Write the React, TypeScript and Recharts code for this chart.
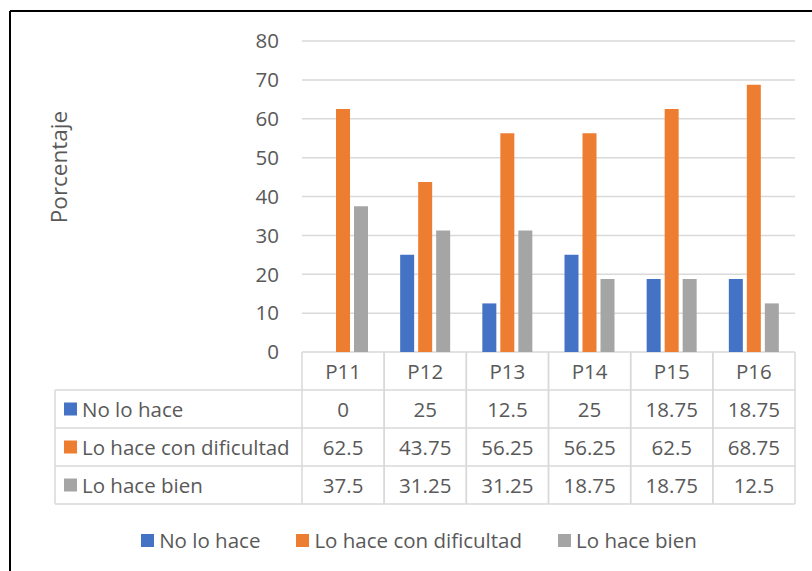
import { Bar, BarChart, CartesianGrid, Legend, XAxis, YAxis } from "recharts"

const categories = ["P11", "P12", "P13", "P14", "P15", "P16"]
const noLoHace = [0, 25, 12.5, 25, 18.75, 18.75]
const conDificultad = [62.5, 43.75, 56.25, 56.25, 62.5, 68.75]
const haceBien = [37.5, 31.25, 31.25, 18.75, 18.75, 12.5]
const yTicks = [0, 10, 20, 30, 40, 50, 60, 70, 80]

const series = [
  { key: "noLoHace", name: "No lo hace", color: "#4472C4", values: noLoHace },
  { key: "conDificultad", name: "Lo hace con dificultad", color: "#ED7D31", values: conDificultad },
  { key: "haceBien", name: "Lo hace bien", color: "#A5A5A5", values: haceBien },
]

const data = categories.map((name, i) => {
  const row: Record<string, string | number> = { name }
  series.forEach((s) => (row[s.key] = s.values[i]))
  return row
})

const W = 812
const H = 571
const PLOT_LEFT = 302
const PLOT_RIGHT = 795
const PLOT_TOP = 41
const PLOT_BOTTOM = 352
const ROW_H = 38
const TABLE_LEFT = 55
const GRID = "#D9D9D9"
const TEXT = "#595959"
const FONT = "'Open Sans', sans-serif"
const FS = 20.5

const colW = (PLOT_RIGHT - PLOT_LEFT) / categories.length

// one column of the data table, hung under each category tick
function TableColumn(props: any) {
  const { x, payload } = props
  const idx = categories.indexOf(payload.value)
  const top = PLOT_BOTTOM
  const x0 = x - colW / 2
  const x1 = x + colW / 2
  const bottom = top + ROW_H * (series.length + 1)
  return (
    <g>
      <line x1={x0} y1={top} x2={x0} y2={bottom} stroke={GRID} strokeWidth={1.5} />
      <line x1={x1} y1={top} x2={x1} y2={bottom} stroke={GRID} strokeWidth={1.5} />
      {series.map((s, r) => (
        <line key={s.key} x1={x0} y1={top + ROW_H * (r + 1)} x2={x1} y2={top + ROW_H * (r + 1)} stroke={GRID} strokeWidth={1.5} />
      ))}
      <line x1={x0} y1={bottom} x2={x1} y2={bottom} stroke={GRID} strokeWidth={1.5} />
      <text x={x} y={top + ROW_H / 2} textAnchor="middle" dominantBaseline="central" fill={TEXT} fontSize={FS} fontFamily={FONT}>
        {payload.value}
      </text>
      {series.map((s, r) => (
        <text
          key={s.key}
          x={x}
          y={top + ROW_H * (r + 1.5)}
          textAnchor="middle"
          dominantBaseline="central"
          fill={TEXT}
          fontSize={FS}
          fontFamily={FONT}
        >
          {s.values[idx]}
        </text>
      ))}
    </g>
  )
}

function LegendRow() {
  return (
    <div style={{ display: "flex", justifyContent: "center", alignItems: "center", fontFamily: FONT, fontSize: FS, color: TEXT }}>
      {series.map((s, i) => (
        <div key={s.key} style={{ display: "flex", alignItems: "center", marginLeft: i === 0 ? 0 : 36 }}>
          <span style={{ width: 13, height: 13, background: s.color, marginRight: 5, display: "inline-block" }} />
          <span>{s.name}</span>
        </div>
      ))}
    </div>
  )
}

export default function App() {
  return (
    <div style={{ position: "absolute", left: 0, top: 0, width: W, height: H, background: "#fff", overflow: "hidden" }}>
      <BarChart
        width={W}
        height={H}
        data={data}
        margin={{ top: PLOT_TOP, right: W - PLOT_RIGHT, left: PLOT_LEFT - 60, bottom: 67 }}
        barSize={14}
        barGap={4}
        style={{ fontFamily: FONT }}
      >
        <CartesianGrid vertical={false} stroke={GRID} strokeWidth={1.5} />
        <XAxis
          dataKey="name"
          axisLine={false}
          tickLine={false}
          tickSize={0}
          tickMargin={0}
          height={152}
          interval={0}
          tick={<TableColumn />}
        />
        <YAxis
          width={60}
          domain={[0, 80]}
          ticks={yTicks}
          axisLine={false}
          tickLine={false}
          tickMargin={17}
          tick={{ fill: TEXT, fontSize: FS, fontFamily: FONT }}
        />
        <Legend
          verticalAlign="middle"
          align="center"
          layout="horizontal"
          content={<LegendRow />}
          wrapperStyle={{ top: 526, left: 13, width: W }}
        />
        {series.map((s) => (
          <Bar key={s.key} dataKey={s.key} name={s.name} fill={s.color} isAnimationActive={false} />
        ))}
      </BarChart>
      <svg width={W} height={H} style={{ position: "absolute", left: 0, top: 0, pointerEvents: "none" }}>
        {/* row headers of the table */}
        <line x1={TABLE_LEFT} y1={PLOT_BOTTOM + ROW_H} x2={TABLE_LEFT} y2={PLOT_BOTTOM + ROW_H * 4} stroke={GRID} strokeWidth={1.5} />
        {[1, 2, 3, 4].map((r) => (
          <line key={r} x1={TABLE_LEFT} y1={PLOT_BOTTOM + ROW_H * r} x2={PLOT_LEFT} y2={PLOT_BOTTOM + ROW_H * r} stroke={GRID} strokeWidth={1.5} />
        ))}
        {series.map((s, r) => (
          <g key={s.key}>
            <rect x={64} y={PLOT_BOTTOM + ROW_H * (r + 1.5) - 6.5} width={13} height={13} fill={s.color} />
            <text x={82} y={PLOT_BOTTOM + ROW_H * (r + 1.5)} dominantBaseline="central" fill={TEXT} fontSize={FS} fontFamily={FONT}>
              {s.name}
            </text>
          </g>
        ))}
        <text
          x={58}
          y={167}
          transform="rotate(-90 58 167)"
          textAnchor="middle"
          dominantBaseline="central"
          fill={TEXT}
          fontSize={22.5}
          fontFamily={FONT}
        >
          Porcentaje
        </text>
        {/* outer frame: only left and top edges fall inside the view */}
        <line x1={10} y1={11} x2={W} y2={11} stroke="#000" strokeWidth={2} />
        <line x1={10} y1={11} x2={10} y2={H} stroke="#000" strokeWidth={2} />
      </svg>
    </div>
  )
}
